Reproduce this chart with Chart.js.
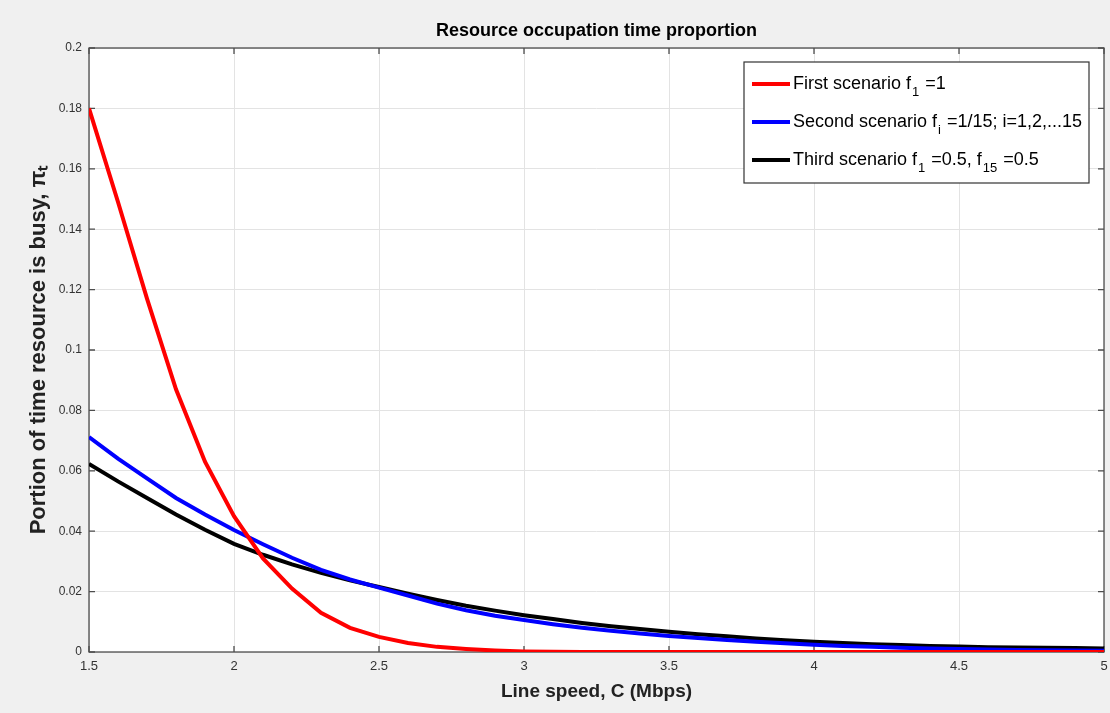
<!DOCTYPE html>
<html>
<head>
<meta charset="utf-8">
<script src="https://cdn.jsdelivr.net/npm/chart.js@4.4.1/dist/chart.umd.min.js"></script>
<style>
  html, body { margin: 0; padding: 0; background: #f0f0f0; }
  #wrap { width: 1110px; height: 713px; }
</style>
</head>
<body>
<div id="wrap"><canvas id="chart" width="1110" height="713"></canvas></div>
<script>
// ===== Data =====
const lineSpeed = [1.5, 1.6, 1.7, 1.8, 1.9, 2.0, 2.1, 2.2, 2.3, 2.4, 2.5, 2.6, 2.7, 2.8, 2.9, 3.0,
  3.1, 3.2, 3.3, 3.4, 3.5, 3.6, 3.7, 3.8, 3.9, 4.0, 4.1, 4.2, 4.3, 4.4, 4.5, 4.6, 4.7, 4.8, 4.9, 5.0];

const firstScenario = [0.180, 0.149, 0.117, 0.087, 0.063, 0.045, 0.031, 0.021, 0.013, 0.008, 0.005,
  0.003, 0.0017, 0.001, 0.0005, 0.0002, 0.0001, 0, 0, 0, 0, 0, 0, 0, 0, 0, 0, 0, 0, 0, 0, 0, 0, 0, 0, 0];

const secondScenario = [0.0712, 0.0640, 0.0575, 0.0510, 0.0455, 0.0404, 0.0357, 0.0312, 0.0272, 0.0240,
  0.0213, 0.0187, 0.0160, 0.0138, 0.0120, 0.0106, 0.0092, 0.0080, 0.0070, 0.0061, 0.0053, 0.0046,
  0.0040, 0.0034, 0.0029, 0.0024, 0.0020, 0.0017, 0.0014, 0.0012, 0.0010, 0.0008, 0.0007, 0.0006,
  0.0005, 0.0004];

const thirdScenario = [0.0623, 0.0565, 0.0510, 0.0455, 0.0405, 0.0358, 0.0322, 0.0290, 0.0262, 0.0237,
  0.0215, 0.0193, 0.0172, 0.0153, 0.0137, 0.0122, 0.0109, 0.0096, 0.0085, 0.0076, 0.0067, 0.0059,
  0.0052, 0.0045, 0.0039, 0.0034, 0.0030, 0.0026, 0.0023, 0.0020, 0.0018, 0.0016, 0.0015, 0.0014,
  0.0013, 0.0012];

const xTickLabels = ['1.5', '2', '2.5', '3', '3.5', '4', '4.5', '5'];
const yTickLabels = ['0', '0.02', '0.04', '0.06', '0.08', '0.1', '0.12', '0.14', '0.16', '0.18', '0.2'];

const chartTitle = 'Resource occupation time proportion';

// legend text: [main, subscript, rest, subscript, rest]
const legendParts = [
  ['First scenario f', '1', ' =1'],
  ['Second scenario f', 'i', ' =1/15; i=1,2,...15'],
  ['Third scenario f', '1', ' =0.5, f', '15', ' =0.5']
];

const toPoints = ys => ys.map((y, i) => ({ x: lineSpeed[i], y }));

// white plot area + box + inward ticks + title over the axes (MATLAB look)
const axesBox = {
  id: 'axesBox',
  beforeDraw(chart) {
    const { ctx, chartArea: a } = chart;
    ctx.save();
    ctx.fillStyle = '#ffffff';
    ctx.fillRect(a.left, a.top, a.right - a.left, a.bottom - a.top);
    ctx.fillStyle = '#000000';
    ctx.font = 'bold 18px "Liberation Sans", Arial';
    ctx.textAlign = 'center';
    ctx.textBaseline = 'middle';
    ctx.fillText(chartTitle, (a.left + a.right) / 2, 31);
    ctx.restore();
  },
  beforeDatasetsDraw(chart) {
    const { ctx, chartArea: a, scales } = chart;
    ctx.save();
    ctx.strokeStyle = '#4d4d4d';
    ctx.lineWidth = 1.3;
    ctx.strokeRect(a.left, a.top, a.right - a.left, a.bottom - a.top);
    ctx.beginPath();
    scales.x.ticks.forEach(t => {
      const px = scales.x.getPixelForValue(t.value);
      ctx.moveTo(px, a.bottom); ctx.lineTo(px, a.bottom - 6);
      ctx.moveTo(px, a.top); ctx.lineTo(px, a.top + 6);
    });
    scales.y.ticks.forEach(t => {
      const py = scales.y.getPixelForValue(t.value);
      ctx.moveTo(a.left, py); ctx.lineTo(a.left + 6, py);
      ctx.moveTo(a.right, py); ctx.lineTo(a.right - 6, py);
    });
    ctx.stroke();
    ctx.restore();
  }
};

// legend drawn inside the plot, with subscripts
const boxLegend = {
  id: 'boxLegend',
  afterDraw(chart) {
    const { ctx } = chart;
    const x0 = 744, y0 = 62, w = 345, h = 121;
    ctx.save();
    ctx.fillStyle = '#ffffff';
    ctx.fillRect(x0, y0, w, h);
    ctx.strokeStyle = '#333333';
    ctx.lineWidth = 1.2;
    ctx.strokeRect(x0, y0, w, h);
    chart.data.datasets.forEach((ds, i) => {
      const cy = 84 + i * 38;
      ctx.strokeStyle = ds.borderColor;
      ctx.lineWidth = 4;
      ctx.beginPath();
      ctx.moveTo(752, cy); ctx.lineTo(790, cy);
      ctx.stroke();
      let tx = 793;
      ctx.fillStyle = '#000000';
      ctx.textBaseline = 'middle';
      legendParts[i].forEach((part, k) => {
        const sub = k % 2 === 1;
        ctx.font = sub ? '13px "Liberation Sans", Arial' : '18px "Liberation Sans", Arial';
        ctx.fillText(part, tx + (sub ? 1 : 0), sub ? cy + 8 : cy);
        tx += ctx.measureText(part).width + (sub ? 2 : 0);
      });
    });
    ctx.restore();
  }
};

const ctx = document.getElementById('chart').getContext('2d');
new Chart(ctx, {
  type: 'line',
  data: {
    datasets: [
      { label: 'First scenario f1 =1', data: toPoints(firstScenario), borderColor: '#ff0000' },
      { label: 'Second scenario fi =1/15; i=1,2,...15', data: toPoints(secondScenario), borderColor: '#0000ff' },
      { label: 'Third scenario f1 =0.5, f15 =0.5', data: toPoints(thirdScenario), borderColor: '#000000' }
    ].map(d => Object.assign(d, { borderWidth: 4, pointRadius: 0, tension: 0, fill: false }))
  },
  options: {
    responsive: false,
    animation: false,
    layout: { padding: { left: 0, right: 0, top: 48, bottom: 0 } },
    plugins: {
      legend: { display: false },
      tooltip: { enabled: false },
      title: { display: false }
    },
    scales: {
      x: {
        type: 'linear',
        min: 1.5, max: 5,
        afterFit: s => { s.height = 61; s.paddingRight = 6; s.paddingLeft = 0; },
        ticks: {
          stepSize: 0.5,
          padding: 7,
          color: '#333333',
          font: { family: '"Liberation Sans Narrow", "Liberation Sans", Arial', size: 13 },
          callback: (v, i) => xTickLabels[i]
        },
        grid: { color: '#e3e3e3', drawTicks: false },
        border: { display: false },
        title: {
          display: true,
          text: 'Line speed, C (Mbps)',
          color: '#222222',
          font: { family: '"Liberation Sans", Arial', size: 19, weight: 'bold' },
          padding: { top: 0, bottom: 10 }
        }
      },
      y: {
        min: 0, max: 0.2,
        afterFit: s => { s.width = 89; },
        ticks: {
          stepSize: 0.02,
          padding: 7,
          color: '#333333',
          font: { family: '"Liberation Sans", Arial', size: 12 },
          callback: (v, i) => yTickLabels[i]
        },
        grid: { color: '#e3e3e3', drawTicks: false },
        border: { display: false },
        title: {
          display: true,
          text: 'Portion of time resource is busy, \u03C0\u209C',
          color: '#222222',
          font: { family: '"Liberation Sans", Arial', size: 22, weight: 'bold' },
          padding: { top: 26, bottom: 0 }
        }
      }
    }
  },
  plugins: [axesBox, boxLegend]
});
</script>
</body>
</html>
